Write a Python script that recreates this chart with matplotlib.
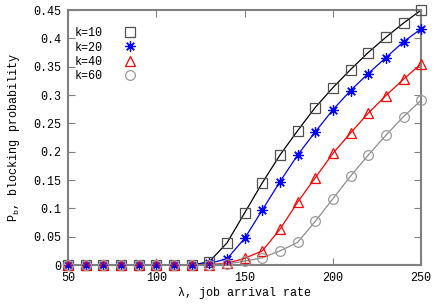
import matplotlib
matplotlib.use("Agg")
from matplotlib import pyplot as plt

plt.rcParams['font.family'] = ['Liberation Mono', 'DejaVu Sans Mono']
plt.rcParams['mathtext.default'] = 'regular'

# job arrival rate
lam = [50, 60, 70, 80, 90, 100, 110, 120, 130, 140, 150, 160, 170,
       180, 190, 200, 210, 220, 230, 240, 250]

# blocking probability per k
pb_k10 = [0, 0, 0, 0, 0, 0, 0, 0, 0.006, 0.039, 0.092, 0.145, 0.194,
          0.237, 0.278, 0.313, 0.345, 0.375, 0.402, 0.427, 0.45]
pb_k20 = [0, 0, 0, 0, 0, 0, 0, 0, 0.003, 0.011, 0.047, 0.097, 0.147,
          0.194, 0.235, 0.274, 0.308, 0.338, 0.366, 0.394, 0.417]
pb_k40 = [0, 0, 0, 0, 0, 0, 0, 0, 0.001, 0.003, 0.012, 0.025, 0.063,
          0.111, 0.154, 0.197, 0.233, 0.268, 0.299, 0.328, 0.355]
pb_k60 = [0, 0, 0, 0, 0, 0, 0, 0, 0.0, 0.002, 0.007, 0.013, 0.025,
          0.040, 0.077, 0.117, 0.157, 0.194, 0.229, 0.262, 0.291]

labels = ['k=10', 'k=20', 'k=40', 'k=60']
xticks = [50, 100, 150, 200, 250]
yticks = [0, 0.05, 0.1, 0.15, 0.2, 0.25, 0.3, 0.35, 0.4, 0.45]
ytick_labels = ['0', '0.05', '0.1', '0.15', '0.2', '0.25', '0.3', '0.35', '0.4', '0.45']

fig = plt.figure(figsize=(4.36, 3.04), dpi=100)
ax = fig.add_axes([0.156, 0.128, 0.81, 0.839])

series = [pb_k10, pb_k20, pb_k40, pb_k60]
line_colors = ['black', '#0000ff', '#ff0000', '#8c8c8c']
mark_colors = ['#505050', '#0000ff', '#ff0000', '#9a9a9a']
markers = ['s', (8, 2, 0), '^', 'o']
msizes = [6.5, 7.5, 7, 7]

for ys, lc in zip(series, line_colors):
    ax.plot(lam, ys, color=lc, lw=0.9)

for ys, mc, m, ms, lab in zip(series, mark_colors, markers, msizes, labels):
    ax.plot(lam, ys, linestyle='none', marker=m, markersize=ms,
            markerfacecolor='none', markeredgecolor=mc, markeredgewidth=0.9,
            label=lab, clip_on=False, zorder=3)

ax.set_xlim(50, 250)
ax.set_ylim(0, 0.45)
ax.set_xticks(xticks)
ax.set_yticks(yticks)
ax.set_yticklabels(ytick_labels)
ax.tick_params(direction='in', length=5, color='#808080', labelsize=8.5,
               top=True, right=True, pad=5)
for s in ax.spines.values():
    s.set_color('#808080')
    s.set_linewidth(1.5)

ax.set_xlabel('λ, job arrival rate', fontsize=8.5, labelpad=2)
ax.set_ylabel('P$_b$, blocking probability', fontsize=8.5, labelpad=8)

ax.legend(loc='upper left', bbox_to_anchor=(-0.005, 0.965), frameon=False,
          markerfirst=False, handlelength=2.2, handletextpad=1.2,
          labelspacing=0.2, fontsize=8.5, borderaxespad=0.3)

fig.savefig('out.png', dpi=100)
